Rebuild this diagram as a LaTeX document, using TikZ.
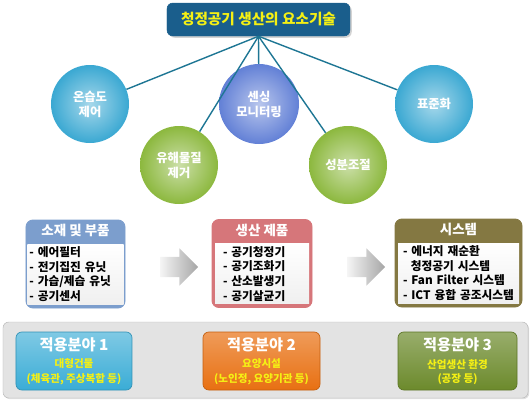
\documentclass[tikz,border=0pt]{standalone}
\usepackage{fontspec}
\setmainfont{Noto Sans CJK KR}
\usetikzlibrary{shapes.arrows, positioning, shadows}

\definecolor{titleblue}{RGB}{26,94,140}
\definecolor{titleyellow}{RGB}{245,240,20}
\definecolor{linkteal}{RGB}{30,118,148}
\definecolor{skyc}{RGB}{58,168,210}
\definecolor{violetc}{RGB}{98,128,214}
\definecolor{leafc}{RGB}{140,184,62}
\definecolor{partsc}{RGB}{124,158,205}
\definecolor{prodc}{RGB}{214,118,122}
\definecolor{sysc}{RGB}{132,120,66}
\definecolor{fieldone}{RGB}{58,172,214}
\definecolor{fieldtwo}{RGB}{232,112,18}
\definecolor{fieldthree}{RGB}{108,138,44}

\newcommand{\subfont}{\fontsize{9}{10.5}\selectfont\color{titleyellow}}

\begin{document}
\begin{tikzpicture}[
    x=0.03cm, y=-0.03cm,
    titlebox/.style={draw=titleblue, fill=titleblue, rounded corners=5pt, minimum width=5.49cm, minimum height=0.99cm,
        text=titleyellow, font=\bfseries\fontsize{12.5}{15}\selectfont,
        drop shadow={opacity=0.35, shadow xshift=1.5pt, shadow yshift=-1.5pt}},
    link/.style={draw=linkteal, line width=1.2pt},
    bubble/.style={circle, minimum size=2.34cm, inner sep=0pt, shading=radial, align=center,
        text=white, font=\bfseries\fontsize{10.5}{12.8}\selectfont},
    catbox/.style={rounded corners=6pt, minimum height=2.64cm, line width=0.8pt},
    cathead/.style={text=white, inner sep=0pt, font=\bfseries\fontsize{11.5}{13}\selectfont},
    catbody/.style={minimum height=1.8cm, inner ysep=0pt, align=left, top color=white, bottom color=gray!12,
        font=\bfseries\fontsize{10}{12.5}\selectfont},
    flow/.style={single arrow, minimum height=1.14cm, inner xsep=0pt, inner ysep=0.3cm,
        single arrow head extend=0.255cm, left color=gray!8, right color=gray!70},
    fieldbox/.style={rounded corners=5pt, minimum height=1.74cm, align=center, text=white,
        font=\bfseries\fontsize{13}{14}\selectfont, line width=0.6pt}
]
    \useasboundingbox (0,0) rectangle (532,406);

    % Top: title and element technologies
    \node[titlebox] (title) at (258.5,19.5) {청정공기 생산의 요소기술};

    \node[bubble, inner color=skyc!45!white, outer color=skyc] (humid) at (90,104) {온습도\\제어};
    \node[bubble, inner color=leafc!45!white, outer color=leafc] (toxic) at (179,165) {유해물질\\제거};
    \node[bubble, minimum size=2.4cm, inner color=violetc!45!white, outer color=violetc] (sense) at (259,104) {센싱\\모니터링};
    \node[bubble, inner color=leafc!45!white, outer color=leafc] (comp) at (348,165) {성분조절};
    \node[bubble, inner color=skyc!45!white, outer color=skyc] (std) at (434,104) {표준화};

    \draw[link] (title.south) -- (humid);
    \draw[link] (title.south) -- (toxic);
    \draw[link] (title.south) -- (sense);
    \draw[link] (title.south) -- (comp);
    \draw[link] (title.south) -- (std);

    % Middle: parts -> products -> systems
    \node[catbox, draw=partsc, fill=partsc, minimum width=2.97cm] (parts) at (75.5,264) {};
    \node[cathead] (partsh) at ([yshift=-0.34cm]parts.north) {소재 및 부품};
    \node[catbody, above=0.12cm of parts.south, inner xsep=0.06cm, text width=2.76cm] (partsb) {
        - 에어필터\\
        - 전기집진 유닛\\
        - 가습/제습 유닛\\
        - 공기센서
    };

    \node[flow] (arrowa) at (174,267) {};

    \node[catbox, draw=prodc, fill=prodc, minimum width=3cm] (prod) at (262,263.5) {};
    \node[cathead] (prodh) at ([yshift=-0.34cm]prod.north) {생산 제품};
    \node[catbody, above=0.12cm of prod.south, inner xsep=0.24cm, text width=2.34cm] (prodb) {
        - 공기청정기\\
        - 공기조화기\\
        - 산소발생기\\
        - 공기살균기
    };

    \node[flow] (arrowb) at (361,267) {};

    \node[catbox, draw=sysc, fill=sysc, minimum width=3.81cm] (sys) at (458.5,263) {};
    \node[cathead] (sysh) at ([yshift=-0.34cm]sys.north) {시스템};
    \node[catbody, above=0.12cm of sys.south, inner xsep=0.15cm, text width=3.33cm] (sysb) {
        - 에너지 재순환\\
        \ \ 청정공기 시스템\\
        - Fan Filter 시스템\\
        - ICT 융합 공조시스템
    };

    % Bottom: application fields
    \node[draw=gray!55, fill=gray!22, rounded corners=5pt, minimum width=15.75cm, minimum height=2.28cm,
        drop shadow={opacity=0.25, shadow xshift=1pt, shadow yshift=-1pt}] (panel) at (265.5,360) {};

    \node[fieldbox, draw=fieldone!85!black, top color=fieldone!65!white, bottom color=fieldone, minimum width=3.48cm] (fielda) at (74,361) {
        적용분야 1\\[1pt]
        {\subfont 대형건물}\\[-2pt]
        {\subfont (체육관, 주상복합 등)}
    };
    \node[fieldbox, draw=fieldtwo!85!black, top color=fieldtwo!70!white, bottom color=fieldtwo, minimum width=3.51cm] (fieldb) at (261.5,361) {
        적용분야 2\\[1pt]
        {\subfont 요양시설}\\[-2pt]
        {\subfont (노인정, 요양기관 등)}
    };
    \node[fieldbox, draw=fieldthree!85!black, top color=fieldthree!70!white, bottom color=fieldthree, minimum width=3.57cm] (fieldc) at (457.5,361) {
        적용분야 3\\[1pt]
        {\subfont 산업생산 환경}\\[-2pt]
        {\subfont (공장 등)}
    };
\end{tikzpicture}
\end{document}
